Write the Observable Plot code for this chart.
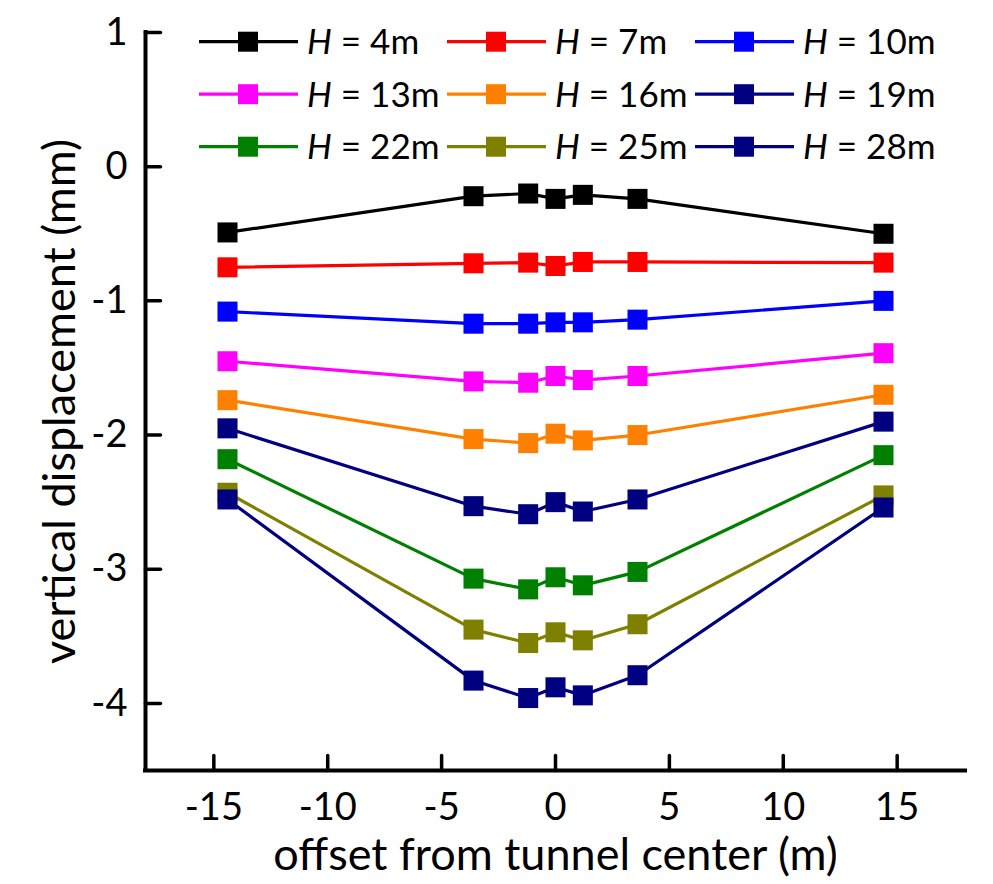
<!DOCTYPE html>
<html><head><meta charset="utf-8">
<script src="https://cdn.jsdelivr.net/npm/d3@7"></script>
<script src="https://cdn.jsdelivr.net/npm/@observablehq/plot@0.6"></script>
<style>
body{margin:0;background:#fff}
#chart{position:relative;width:993px;height:884px}
</style>
</head><body><div id="chart"></div>
<script>
// ---- data ----
const offsets = [-14.4, -3.6, -1.2, 0, 1.2, 3.6, 14.4];
const depths = [4, 7, 10, 13, 16, 19, 22, 25, 28];
const h4  = [-0.49, -0.22, -0.20, -0.24, -0.21, -0.24, -0.50];
const h7  = [-0.75, -0.72, -0.715, -0.74, -0.71, -0.71, -0.715];
const h10 = [-1.08, -1.17, -1.17, -1.16, -1.16, -1.14, -1.00];
const h13 = [-1.45, -1.60, -1.61, -1.56, -1.59, -1.56, -1.39];
const h16 = [-1.74, -2.03, -2.06, -1.99, -2.04, -2.00, -1.70];
const h19 = [-1.95, -2.53, -2.59, -2.50, -2.57, -2.48, -1.90];
const h22 = [-2.18, -3.07, -3.15, -3.06, -3.12, -3.02, -2.15];
const h25 = [-2.43, -3.45, -3.55, -3.47, -3.53, -3.41, -2.45];
const h28 = [-2.48, -3.83, -3.96, -3.88, -3.94, -3.79, -2.54];
const seriesValues = [h4, h7, h10, h13, h16, h19, h22, h25, h28];
const palette = ["#000000", "#ff0000", "#0000ff", "#ff00ff", "#ff8000", "#000080", "#008000", "#808000", "#000080"];
const xTicks = [-15, -10, -5, 0, 5, 10, 15];
const yTicks = [1, 0, -1, -2, -3, -4];
const xDomain = [-18, 18];
const yDomain = [-4.5, 1];
const xTitle = "offset from tunnel center (m)";
const yTitle = "vertical displacement (mm)";

const rows = depths.flatMap((d, i) => offsets.map((x, j) => ({depth: d, x, y: seriesValues[i][j]})));

const tickShape = {draw(ctx, l) { ctx.moveTo(0, 0); ctx.lineTo(0, -l); }};

const marks = [];
depths.forEach((d, i) => {
  const data = rows.filter(r => r.depth === d);
  marks.push(Plot.line(data, {x: "x", y: "y", stroke: palette[i], strokeWidth: 3.2}));
  marks.push(Plot.dot(data, {x: "x", y: "y", symbol: "square", r: 11.3, fill: palette[i], stroke: "none"}));
});

const chart = Plot.plot({
  width: 993,
  height: 884,
  marginLeft: 145,
  marginRight: 28,
  marginTop: 32,
  marginBottom: 114,
  style: {fontFamily: "Lato", color: "black", background: "white", overflow: "visible"},
  x: {domain: xDomain},
  y: {domain: yDomain},
  marks: [
    ...marks,
    Plot.vector(xTicks, {x: d => d, y: yDomain[0], length: 15, rotate: 0, anchor: "start", shape: tickShape, stroke: "black", strokeWidth: 3.5}),
    Plot.vector(yTicks, {x: xDomain[0], y: d => d, length: 15, rotate: 90, anchor: "start", shape: tickShape, stroke: "black", strokeWidth: 3.5}),
    Plot.ruleY([yDomain[0]], {stroke: "black", strokeWidth: 4, strokeLinecap: "square"}),
    Plot.ruleX([xDomain[0]], {stroke: "black", strokeWidth: 4, strokeLinecap: "square"}),
    Plot.axisX({ticks: xTicks, tickSize: 0, tickPadding: 23, fontSize: 38, tickFormat: d => String(d), label: null}),
    Plot.axisY({ticks: yTicks, tickSize: 0, tickPadding: 18, fontSize: 38, tickFormat: d => String(d), label: null}),
    Plot.text([xTitle], {text: d => d, frameAnchor: "bottom", lineAnchor: "bottom", textAnchor: "middle", dy: 99, fontSize: 45, fill: "black"}),
    Plot.text([yTitle], {text: d => d, frameAnchor: "left", lineAnchor: "bottom", textAnchor: "middle", rotate: -90, dx: -71, fontSize: 45, fill: "black"})
  ]
});

document.getElementById("chart").appendChild(chart);

// ---- legend (inside plot, 3 columns) ----
const svg = d3.select(chart);
const lg = svg.append("g").attr("font-family", "Lato").attr("font-size", 35).attr("fill", "black").attr("text-anchor", "start");
depths.forEach((d, i) => {
  const col = i % 3, row = Math.floor(i / 3);
  const x0 = 199 + col * 248, yc = 41.7 + row * 52.5;
  lg.append("line").attr("x1", x0).attr("x2", x0 + 99).attr("y1", yc).attr("y2", yc)
    .attr("stroke", palette[i]).attr("stroke-width", 3.2);
  lg.append("rect").attr("x", x0 + 39).attr("y", yc - 10).attr("width", 20).attr("height", 20)
    .attr("fill", palette[i]);
  const t = lg.append("text").attr("x", x0 + 108).attr("y", yc + 12.6).attr("text-anchor", "start");
  t.append("tspan").attr("font-style", "italic").text("H");
  t.append("tspan").text(" = " + d + "m");
});
</script>
</body></html>
